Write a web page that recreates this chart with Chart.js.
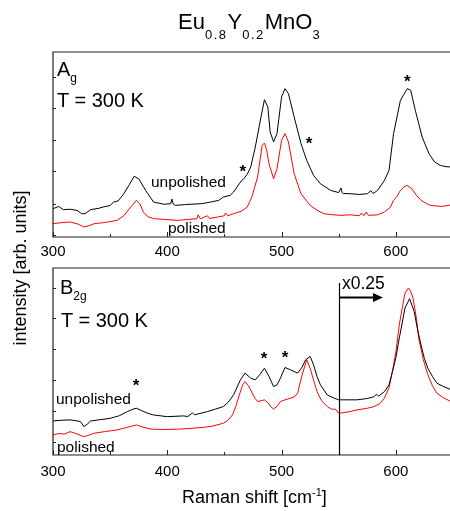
<!DOCTYPE html>
<html lang="en">
<head>
    <meta charset="UTF-8">
    <title>Eu0.8Y0.2MnO3 Raman spectra</title>
    <script src="https://cdn.jsdelivr.net/npm/chart.js"></script>
    <style>
        html, body {
            margin: 0;
            padding: 0;
            width: 450px;
            height: 511px;
            overflow: hidden;
            background: #fff;
            font-family: "Liberation Sans", Arial, sans-serif;
            color: #000;
        }
        canvas {
            position: absolute;
            left: 0;
        }
        #chartTop { top: 0; }
        #chartBottom { top: 262px; }
        .lbl {
            position: absolute;
            line-height: 1;
            white-space: nowrap;
        }
        .sub {
            position: relative;
            font-size: 12px;
        }
    </style>
</head>
<body>
    <canvas id="chartTop" width="460" height="265"></canvas>
    <canvas id="chartBottom" width="460" height="249"></canvas>

    <div class="lbl" style="left:178px; top:11px; font-size:22px;">Eu<span class="sub" style="top:10px; font-size:13px; letter-spacing:1.5px;">0.8</span>Y<span class="sub" style="top:10px; font-size:13px; letter-spacing:1.5px;">0.2</span>MnO<span class="sub" style="top:10px; font-size:13px;">3</span></div>

    <div class="lbl" style="left:57px; top:59px; font-size:20px;">A<span class="sub" style="top:6px;">g</span></div>
    <div class="lbl" style="left:57px; top:90px; font-size:20px;">T = 300 K</div>
    <div class="lbl" style="left:151px; top:174px; font-size:15.5px;">unpolished</div>
    <div class="lbl" style="left:168px; top:220px; font-size:15.5px;">polished</div>

    <div class="lbl" style="left:60px; top:277px; font-size:20px;">B<span class="sub" style="top:6px;">2g</span></div>
    <div class="lbl" style="left:61px; top:310px; font-size:20px;">T = 300 K</div>
    <div class="lbl" style="left:56px; top:391px; font-size:15.5px;">unpolished</div>
    <div class="lbl" style="left:57px; top:439px; font-size:15.5px;">polished</div>
    <div class="lbl" style="left:342px; top:275px; font-size:17.5px;">x0.25</div>

    <div class="lbl" style="left:182px; top:488px; font-size:18px;">Raman shift [cm<span style="position:relative; top:-7px; font-size:11px;">-1</span>]</div>
    <div class="lbl" style="left:-80px; top:259px; width:200px; text-align:center; font-size:18px; transform:rotate(-90deg);">intensity [arb. units]</div>

    <script>
        // A_g spectra, [Raman shift, intensity] (arb. units 0-100)
        const agUnpolished = [[300,15.3],[305,16.5],[309,14.8],[315,15.0],[321,14.4],[325,12.6],[328,12.6],[333,14.8],[340,15.5],[344,16.2],[350,17.0],[353,18.9],[357,19.5],[362,23.4],[367,28.5],[371,32.8],[375,31.5],[381,25.2],[388,18.9],[397,17.7],[403,18.0],[404,20.5],[405,18.0],[407,17.1],[415,17.5],[420,17.7],[430,18.0],[438,18.9],[445,19.8],[449,21.6],[455,22.5],[458,24.3],[461,27.0],[463,28.8],[465,30.5],[467,31.5],[470,34.0],[473,37.8],[477,48.6],[482,64.9],[485,74.2],[488,70.3],[490,56.8],[493,51.4],[496,55.9],[500,75.7],[503,80.2],[506,77.5],[511,64.9],[517,50.5],[522,41.4],[528,33.3],[534,28.8],[543,25.2],[550,24.0],[552,26.5],[553,24.0],[554,23.5],[560,23.4],[568,23.0],[575,23.4],[578,25.0],[580,23.5],[584,25.2],[590,30.6],[594,36.0],[598,55.9],[604,73.9],[610,80.2],[613,79.3],[617,68.5],[623,54.1],[629,45.0],[634,40.5],[639,38.7],[644,38.0],[650,37.8]];
        const agPolished = [[300,7.2],[308,7.8],[315,8.1],[322,7.0],[327,5.4],[331,6.0],[336,7.2],[345,7.8],[356,9.0],[362,11.5],[368,16.2],[373,19.8],[376,18.0],[379,13.5],[383,11.0],[388,9.9],[398,9.5],[409,9.0],[418,9.5],[426,9.9],[427,12.0],[429,9.8],[435,11.5],[437,10.0],[444,10.8],[450,11.5],[451,13.0],[453,11.5],[458,12.6],[465,14.0],[470,16.2],[472,19.0],[474,21.6],[479,32.4],[483,49.5],[485,50.8],[487,47.0],[489,39.6],[493,31.5],[496,36.9],[500,52.3],[503,55.9],[506,51.4],[511,34.2],[517,23.4],[525,17.1],[531,14.5],[537,12.6],[545,12.0],[552,11.7],[560,12.0],[568,11.5],[570,13.0],[572,11.5],[574,13.5],[576,11.7],[584,12.0],[590,13.5],[595,16.0],[598,19.8],[601,22.0],[604,25.2],[607,27.0],[610,27.9],[614,26.1],[618,22.5],[622,19.8],[630,17.1],[640,16.5],[650,17.5]];

        // B_2g spectra (values above 550 cm-1 already shown x0.25, as in the figure)
        const b2gUnpolished = [[300,18.2],[308,18.6],[315,18.8],[320,18.3],[324,17.9],[327,15.2],[330,16.5],[333,18.2],[340,18.8],[350,19.6],[358,21.0],[365,23.2],[370,24.5],[373,25.0],[378,23.6],[383,22.3],[388,21.4],[400,20.5],[414,20.9],[418,20.6],[422,22.5],[424,21.5],[435,23.2],[442,24.5],[449,25.9],[453,28.0],[458,32.1],[464,40.2],[468,43.8],[473,41.1],[477,40.2],[481,43.0],[485,46.4],[489,42.0],[493,36.6],[496,37.5],[499,41.1],[503,46.8],[508,45.5],[514,43.8],[518,47.0],[521,50.9],[525,52.7],[528,48.2],[531,42.0],[534,37.5],[540,32.1],[546,30.4],[550,29.5],[566,29.5],[575,30.2],[581,31.2],[583,32.5],[585,31.5],[590,33.9],[594,37.5],[597,44.6],[600,52.0],[603,62.5],[608,78.6],[612,83.6],[616,76.8],[619,67.0],[622,58.9],[625,51.5],[628,46.4],[632,42.0],[636,38.4],[642,36.5],[650,34.5]];
        const b2gPolished = [[300,10.7],[305,11.5],[310,11.2],[315,12.5],[320,11.5],[327,9.8],[331,10.5],[336,11.6],[345,12.5],[356,13.4],[365,14.8],[373,16.1],[378,15.0],[385,13.9],[395,13.6],[409,13.8],[420,14.2],[432,14.8],[440,15.5],[449,17.0],[453,18.5],[457,21.4],[460,26.0],[463,32.1],[466,37.5],[468,39.3],[471,37.0],[473,34.8],[476,31.0],[479,28.6],[482,29.0],[485,29.5],[488,28.0],[491,25.5],[493,24.6],[496,26.0],[499,28.6],[503,29.5],[508,30.4],[511,31.0],[514,33.0],[518,42.9],[522,50.9],[525,46.4],[528,40.0],[531,33.9],[535,29.0],[540,25.9],[544,24.5],[547,24.5],[550,22.3],[558,23.0],[566,24.1],[575,25.0],[581,25.9],[586,27.5],[590,30.4],[594,36.0],[597,44.6],[600,55.0],[603,69.6],[606,80.0],[608,86.6],[611,89.3],[613,87.5],[615,83.9],[618,73.0],[620,62.5],[624,51.0],[628,42.9],[632,37.0],[636,33.0],[642,30.5],[650,28.0]];

        // axis ticks (650 falls off the right edge, so it gets no label)
        const xLabels = [300, 400, 500, 600];
        const xMajor = [300, 400, 500, 600];
        const xMinor = [350, 450, 550, 650];
        const agYTicks = [1, 18, 35.5, 52.5, 69.5, 86.5];
        const b2gYTicks = [7, 23.5, 40, 56.5, 73, 89.5];

        // peak markers (*) in data coordinates
        const agStars = [[466, 37.9], [524, 52.8], [610, 86.7]];
        const b2gStars = [[372.6, 39.6], [484.6, 53.8], [503, 54.4]];

        const toXY = arr => arr.map(p => ({ x: p[0], y: p[1] }));

        // frame, inward ticks, asterisks and the x0.25 marker
        const decorations = {
            id: 'decorations',
            afterDraw(chart, args, opts) {
                const ctx = chart.ctx;
                const area = chart.chartArea;
                const xs = chart.scales.x, ys = chart.scales.y;
                ctx.save();
                ctx.strokeStyle = '#222';
                ctx.lineWidth = 1.2;
                ctx.beginPath();
                ctx.moveTo(area.right, area.top);
                ctx.lineTo(area.left, area.top);
                ctx.lineTo(area.left, area.bottom);
                ctx.lineTo(area.right, area.bottom);
                ctx.stroke();

                ctx.lineWidth = 1;
                ctx.beginPath();
                xMajor.forEach(v => {
                    const px = Math.round(xs.getPixelForValue(v)) + 0.5;
                    ctx.moveTo(px, area.bottom); ctx.lineTo(px, area.bottom - 5);
                });
                xMinor.forEach(v => {
                    const px = Math.round(xs.getPixelForValue(v)) + 0.5;
                    ctx.moveTo(px, area.bottom); ctx.lineTo(px, area.bottom - 3);
                });
                opts.yTicks.forEach(v => {
                    const py = Math.round(ys.getPixelForValue(v)) + 0.5;
                    ctx.moveTo(area.left, py); ctx.lineTo(area.left + 3, py);
                });
                ctx.stroke();

                ctx.fillStyle = '#000';
                ctx.font = 'bold 17px "Liberation Sans", Arial, sans-serif';
                ctx.textAlign = 'center';
                ctx.textBaseline = 'alphabetic';
                opts.stars.forEach(s => {
                    ctx.fillText('*', xs.getPixelForValue(s[0]), ys.getPixelForValue(s[1]) + 10);
                });

                if (opts.split) {
                    const sx = Math.round(xs.getPixelForValue(opts.split.x)) + 0.5;
                    ctx.strokeStyle = '#000';
                    ctx.lineWidth = 1.2;
                    ctx.beginPath();
                    ctx.moveTo(sx, ys.getPixelForValue(opts.split.top));
                    ctx.lineTo(sx, area.bottom);
                    ctx.stroke();
                    const ay = Math.round(ys.getPixelForValue(opts.split.arrowY)) + 0.5;
                    const ax2 = xs.getPixelForValue(opts.split.arrowTo);
                    ctx.lineWidth = 2;
                    ctx.beginPath();
                    ctx.moveTo(sx, ay);
                    ctx.lineTo(ax2 - 6, ay);
                    ctx.stroke();
                    ctx.beginPath();
                    ctx.moveTo(ax2, ay);
                    ctx.lineTo(ax2 - 10, ay - 4.5);
                    ctx.lineTo(ax2 - 10, ay + 4.5);
                    ctx.closePath();
                    ctx.fill();
                }
                ctx.restore();
            }
        };

        function makeChart(id, unpol, pol, padTop, xHeight, labelPad, deco) {
            return new Chart(document.getElementById(id), {
                type: 'line',
                data: {
                    datasets: [
                        { label: 'unpolished', data: toXY(unpol), borderColor: '#000', borderWidth: 1, pointRadius: 0, tension: 0 },
                        { label: 'polished', data: toXY(pol), borderColor: '#ff0000', borderWidth: 1, pointRadius: 0, tension: 0 }
                    ]
                },
                options: {
                    responsive: false,
                    animation: false,
                    layout: { padding: { left: 53, right: 7, top: padTop, bottom: 0 } },
                    plugins: {
                        legend: { display: false },
                        tooltip: { enabled: false },
                        decorations: deco
                    },
                    scales: {
                        x: {
                            type: 'linear',
                            min: 300,
                            max: 650,
                            grid: { display: false, drawTicks: false },
                            border: { display: false },
                            ticks: {
                                stepSize: 100,
                                padding: labelPad,
                                color: '#000',
                                font: { family: '"Liberation Sans", Arial, sans-serif', size: 15 },
                                maxRotation: 0,
                                autoSkip: false,
                                callback: v => xLabels.includes(v) ? String(v) : ''
                            },
                            afterFit(scale) {
                                scale.height = xHeight;
                                scale.paddingLeft = 0;
                                scale.paddingRight = 0;
                            }
                        },
                        y: {
                            display: false,
                            min: 0,
                            max: 100
                        }
                    }
                },
                plugins: [decorations]
            });
        }

        makeChart('chartTop', agUnpolished, agPolished, 52, 28, 6,
            { yTicks: agYTicks, stars: agStars });
        makeChart('chartBottom', b2gUnpolished, b2gPolished, 6, 56, 8,
            { yTicks: b2gYTicks, stars: b2gStars,
              split: { x: 550, top: 92, arrowY: 84.5, arrowTo: 588.7 } });
    </script>
</body>
</html>
